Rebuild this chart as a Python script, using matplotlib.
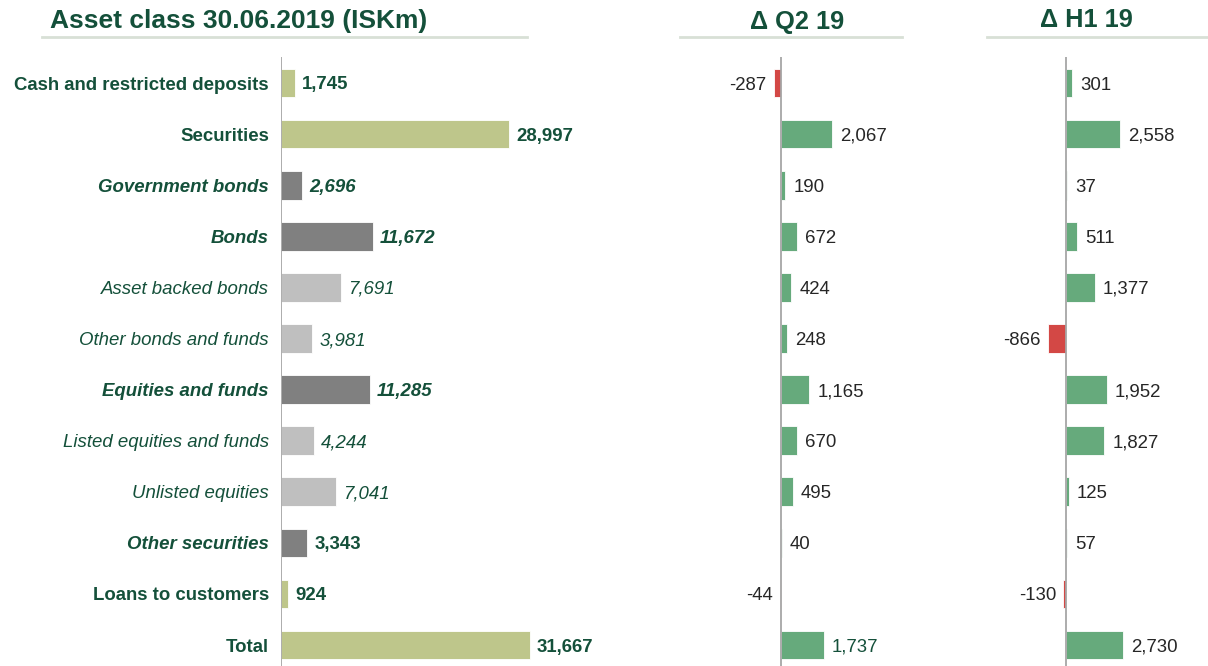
import matplotlib.pyplot as plt
from matplotlib.lines import Line2D

# ====================================
# DATA
# ====================================

categories = [
    "Cash and restricted deposits", "Securities", "Government bonds", "Bonds",
    "Asset backed bonds", "Other bonds and funds", "Equities and funds",
    "Listed equities and funds", "Unlisted equities", "Other securities",
    "Loans to customers", "Total",
]
# 0 = main line, 1 = sub total, 2 = detail
levels = [0, 0, 1, 1, 2, 2, 1, 2, 2, 1, 0, 0]
balance = [1745, 28997, 2696, 11672, 7691, 3981, 11285, 4244, 7041, 3343, 924, 31667]
delta_q2 = [-287, 2067, 190, 672, 424, 248, 1165, 670, 495, 40, -44, 1737]
delta_h1 = [301, 2558, 37, 511, 1377, -866, 1952, 1827, 125, 57, -130, 2730]

# ====================================
# STYLE
# ====================================

plt.rcParams['font.family'] = ['Liberation Sans', 'DejaVu Sans']

W, H = 1208, 666
FS = 13.4
DARK_GREEN = '#14503a'
TEXT_GREY = '#262626'
AXIS_GREY = '#a6a6a6'
RULE = '#d8e0d6'
POS = '#66aa7c'
NEG = '#d34845'
level_colors = {0: '#bec68b', 1: '#808080', 2: '#bfbfbf'}
level_font = {0: ('bold', 'normal'), 1: ('bold', 'italic'), 2: ('normal', 'italic')}

fig = plt.figure(figsize=(W / 100, H / 100), dpi=100)

# rows: first centre at y=83px, spacing ~51px, axes from y=57px to the bottom
top_px, row0, step = 57, 83, 51.1
y_top = (top_px - row0) / step
y_bot = (H - row0) / step
rows = list(range(len(categories)))


def add_panel(x0, x1, zero_px, px_per_unit):
    ax = fig.add_axes([x0 / W, 0, (x1 - x0) / W, (H - top_px) / H])
    ax.set_xlim(-(zero_px - x0) / px_per_unit, (x1 - zero_px) / px_per_unit)
    ax.set_ylim(y_bot, y_top)
    ax.axis('off')
    ax.axvline(0, color=AXIS_GREY, lw=1.3, zorder=3)
    return ax


# ====================================
# BALANCE PANEL
# ====================================

ax1 = add_panel(281, 660, 281, 0.00786)
ax1.barh(rows, balance, height=0.56, color=[level_colors[l] for l in levels],
         edgecolor='white', linewidth=0.6, zorder=2)

for i, (name, val, lev) in enumerate(zip(categories, balance, levels)):
    weight, style = level_font[lev]
    ax1.annotate(name, (0, i), xytext=(-12, 0), textcoords='offset pixels',
                 ha='right', va='center_baseline', fontsize=FS, color=DARK_GREEN,
                 fontweight=weight, fontstyle=style)
    vstyle = 'normal' if name == "Other securities" else style
    ax1.annotate(f"{val:,}", (val, i), xytext=(7, 0), textcoords='offset pixels',
                 ha='left', va='center_baseline', fontsize=FS, color=DARK_GREEN,
                 fontweight=weight, fontstyle=vstyle)

# ====================================
# DELTA PANELS
# ====================================


def delta_panel(ax, values):
    ax.barh(rows, values, height=0.56,
            color=[POS if v >= 0 else NEG for v in values],
            edgecolor='white', linewidth=0.6, zorder=2)
    for i, v in enumerate(values):
        if v >= 0:
            ax.annotate(f"{v:,}", (v, i), xytext=(8, 0), textcoords='offset pixels',
                        ha='left', va='center_baseline', fontsize=FS, color=TEXT_GREY)
        else:
            ax.annotate(f"{v:,}", (v, i), xytext=(-7, 0), textcoords='offset pixels',
                        ha='right', va='center_baseline', fontsize=FS, color=TEXT_GREY)


ax2 = add_panel(690, 905, 780.7, 0.0247)
delta_panel(ax2, delta_q2)
ax2.texts[-1].set_color(DARK_GREEN)

ax3 = add_panel(990, 1208, 1066, 0.021)
delta_panel(ax3, delta_h1)

# ====================================
# HEADERS
# ====================================

fig.text(50 / W, 1 - 21 / H, "Asset class 30.06.2019 (ISKm)", ha='left', va='center',
         fontsize=19, fontweight='bold', color=DARK_GREEN)
fig.text(797 / W, 1 - 22 / H, "\u0394 Q2 19", ha='center', va='center',
         fontsize=18.3, fontweight='bold', color=DARK_GREEN)
fig.text(1086 / W, 1 - 20 / H, "\u0394 H1 19", ha='center', va='center',
         fontsize=18.3, fontweight='bold', color=DARK_GREEN)

for xa, xb in [(42, 527), (680, 902), (987, 1208)]:
    fig.add_artist(Line2D([xa / W, xb / W], [1 - 37 / H, 1 - 37 / H],
                          color=RULE, lw=2, transform=fig.transFigure))

fig.savefig("out.png", dpi=100)
